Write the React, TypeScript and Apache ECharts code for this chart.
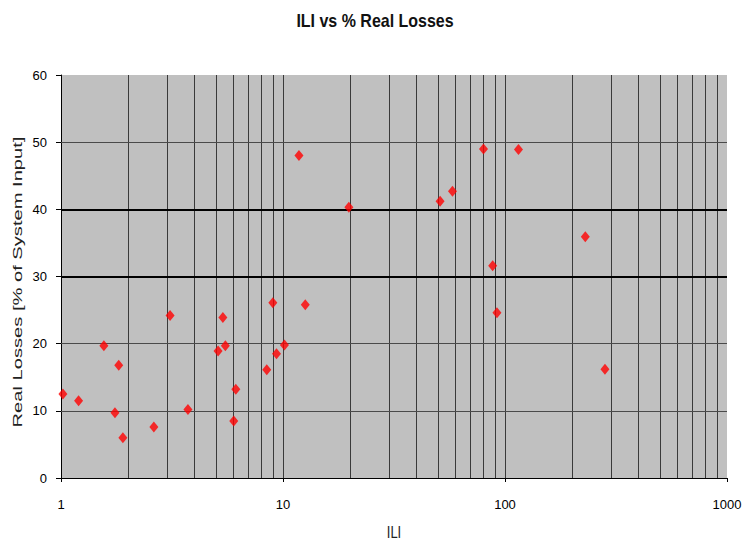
import React, { useEffect, useRef } from "react";
import * as echarts from "echarts";

const titleText = "ILI vs % Real Losses";
const yAxisName = "Real Losses [% of System Input]";
const xAxisName = "ILI";

const iliValues = [
  1.02, 1.2, 1.56, 1.75, 1.82, 1.9, 2.62, 3.1, 3.73, 5.1, 5.36, 5.5, 6.0, 6.13,
  8.45, 9.0, 9.35, 10.15, 11.8, 12.6, 19.8, 51, 58, 80, 88, 92, 115, 230, 282,
];
const realLossValues = [
  12.5, 11.5, 19.7, 9.7, 16.8, 6.0, 7.6, 24.2, 10.2, 18.9, 23.9, 19.7, 8.5, 13.2,
  16.1, 26.1, 18.5, 19.8, 48.0, 25.8, 40.3, 41.2, 42.7, 49.0, 31.6, 24.6, 48.9,
  35.9, 16.2,
];

const minorGridX = [
  2, 3, 4, 5, 6, 7, 8, 9, 20, 30, 40, 50, 60, 70, 80, 90, 200, 300, 400, 500,
  600, 700, 800, 900,
];
const majorGridX = [10, 100];
const thinGridY = [10, 20, 50];
const boldGridY = [30, 40];

const FONT = "'Liberation Sans', Arial, Helvetica, sans-serif";

export default function App() {
  const ref = useRef<HTMLDivElement>(null);

  useEffect(() => {
    if (!ref.current) return;
    const chart = echarts.init(ref.current, null, { renderer: "svg" });

    const gridLines: any[] = [];
    minorGridX.forEach((v) =>
      gridLines.push({ xAxis: v, lineStyle: { color: "#3a3a3a", width: 1, type: "solid" } })
    );
    majorGridX.forEach((v) =>
      gridLines.push({ xAxis: v, lineStyle: { color: "#3a3a3a", width: 1, type: "solid" } })
    );
    thinGridY.forEach((v) =>
      gridLines.push({ yAxis: v, lineStyle: { color: "#4a4a4a", width: 1, type: "solid" } })
    );
    boldGridY.forEach((v) =>
      gridLines.push({ yAxis: v, lineStyle: { color: "#000000", width: 2, type: "solid" } })
    );

    chart.setOption({
      animation: false,
      backgroundColor: "#ffffff",
      graphic: [
        {
          type: "text",
          x: 375,
          y: 20,
          scaleY: 1.2,
          style: {
            text: titleText,
            font: `bold 16px ${FONT}`,
            fill: "#111",
            textAlign: "center",
            textVerticalAlign: "middle",
          },
        },
        {
          type: "text",
          x: 18,
          y: 282,
          rotation: Math.PI / 2,
          scaleX: 1.55,
          style: {
            text: yAxisName,
            font: `13px ${FONT}`,
            fill: "#222",
            textAlign: "center",
            textVerticalAlign: "middle",
          },
        },
        {
          type: "text",
          x: 394,
          y: 532,
          scaleY: 1.25,
          style: {
            text: xAxisName,
            font: `13px ${FONT}`,
            fill: "#222",
            textAlign: "center",
            textVerticalAlign: "middle",
          },
        },
      ],
      grid: {
        left: 61,
        right: 20,
        top: 75,
        bottom: 64,
        show: true,
        backgroundColor: "#c0c0c0",
        borderWidth: 0,
        containLabel: false,
        outerBoundsMode: "none",
      },
      xAxis: {
        type: "log",
        logBase: 10,
        min: 1,
        max: 1000,
        axisLine: { onZero: false, lineStyle: { color: "#000", width: 1 } },
        axisTick: { show: true, length: 4, lineStyle: { color: "#000" } },
        axisLabel: {
          fontFamily: FONT,
          fontSize: 13,
          color: "#000",
          margin: 20,
          formatter: (v: number) => String(Math.round(v)),
        },
        splitLine: { show: false },
        minorTick: { show: false },
      },
      yAxis: {
        type: "value",
        min: 0,
        max: 60,
        interval: 10,
        axisLine: { show: true, lineStyle: { color: "#000", width: 1 } },
        axisTick: { show: true, length: 5, lineStyle: { color: "#000" } },
        axisLabel: { fontFamily: FONT, fontSize: 13, color: "#000", margin: 14 },
        splitLine: { show: false },
      },
      series: [
        {
          type: "scatter",
          name: "grid",
          data: [],
          z: 1,
          silent: true,
          markLine: {
            silent: true,
            symbol: ["none", "none"],
            label: { show: false },
            emphasis: { disabled: true },
            animation: false,
            data: gridLines,
          },
        },
        {
          type: "scatter",
          name: "ILI vs Real Losses",
          z: 5,
          symbol: "diamond",
          symbolSize: [9, 11],
          itemStyle: { color: "#ff0000" },
          data: iliValues.map((x, i) => [x, realLossValues[i]]),
        },
      ],
    });

    return () => chart.dispose();
  }, []);

  return (
    <div
      ref={ref}
      style={{ position: "fixed", left: 0, top: 0, width: 747, height: 542 }}
    />
  );
}
